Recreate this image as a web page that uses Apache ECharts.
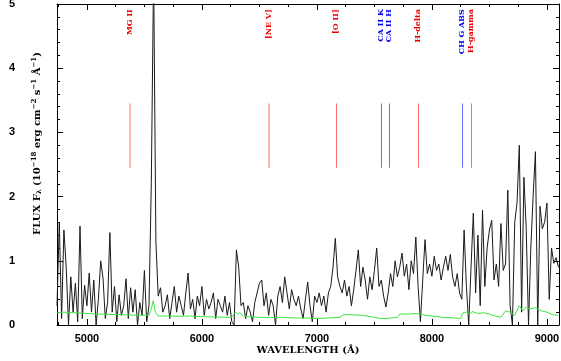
<!DOCTYPE html>
<html>
<head>
<meta charset="utf-8">
<script src="https://cdn.jsdelivr.net/npm/echarts@6/dist/echarts.min.js"></script>
<style>
html, body { margin: 0; padding: 0; background: #fff; }
#spectrum { width: 561px; height: 361px; }
</style>
</head>
<body>
<div id="spectrum"></div>
<script>
// wavelength sampling of the spectrum (Angstrom)
var waveStart = 4740
var waveStep = 20

// flux, 10^-18 erg cm^-2 s^-1 A^-1, one value per sample
var flux = [
    0.3, 1.6, 0.1, 1.48, 0.9, 0.0, 0.75, 0.2, 0.65, 0.05, 1.54, 0.1, 0.62, 0.3,
    0.81, 0.2, 0.7, 0.0, 0.4, 1.0, 0.73, 0.1, 0.35, 1.44, 0.2, 0.6, 0.05, 0.47, 0.15, 0.3,
    0.72, 0.1, 0.58, 0.2, 0.55, 0.0, 0.35, 0.15, 0.85, 0.05,
    0.3, 2.2, 5.5, 1.3,
    0.45, 0.58, 0.2, 0.3, 0.47, 0.1, 0.35, 0.6, 0.2, 0.45, 0.3, 0.15, 0.5, 0.81, 0.25, 0.4,
    0.1, 0.45, 0.3, 0.6, 0.15, 0.4, 0.25, 0.35, 0.5, 0.1, 0.4, 0.3, 0.2, 0.45, 0.15, 0.35, 0.05, 0.0,
    1.17, 0.9, 0.3,
    0.35, 0.1, 0.3, 0.2, 0.05, 0.35, 0.5, 0.65, 0.7, 0.3, 0.5, 0.15, 0.4, 0.3, 0.0, 0.45,
    0.6, 0.35, 0.75, 0.5, 0.25, 0.55, 0.4, 0.3, 0.45, 0.25, 0.1, 0.4, 0.67, 0.3, 0.05, 0.45,
    0.35, 0.5, 0.3, 0.45, 0.2, 0.5,
    0.6, 0.9, 1.35, 0.75, 0.6, 0.5, 0.7, 0.45, 0.6, 0.3, 0.55, 0.85, 1.17, 0.6, 0.9, 0.7,
    0.4, 0.75, 0.55, 0.85, 1.2, 0.6, 0.7, 0.45, 0.28,
    0.5, 0.8, 0.6, 1.0, 0.75, 0.9, 1.12, 0.76, 0.95, 0.55, 1.0, 0.8, 1.37, 0.6, 0.05, 0.7,
    1.33, 0.8, 0.95, 0.76, 1.07, 0.85, 0.95, 0.7, 0.9, 1.07, 0.85,
    1.1, 0.75, 0.6, 0.8, 0.5, 0.4, 1.48, 0.6, 0.0, 0.9, 1.74, 0.5, 1.4, 0.3, 1.79, 0.6, 1.2, 1.48,
    1.63, 0.7, 0.95, 0.6, 1.58, 0.85, 0.95, 2.1, 0.3, 0.0, 1.6, 1.9, 2.8, 0.2, 2.3, 1.5,
    0.0, 1.2, 2.0, 2.7, 0.0, 1.85, 1.5, 1.6, 1.9, 0.4, 1.2, 0.96, 1.05, 0.9
]

// error spectrum (green)
var errWave = [4740, 4800, 4900, 5000, 5100, 5200, 5300, 5400, 5500, 5540, 5560, 5577, 5595, 5620,
    5700, 5800, 5900, 6000, 6100, 6200, 6260, 6290, 6310, 6330, 6360, 6400, 6500, 6600, 6700,
    6800, 6900, 7000, 7100, 7200, 7230, 7300, 7400, 7500, 7550, 7600, 7650, 7700, 7720, 7800,
    7850, 7900, 7950, 8000, 8100, 8200, 8250, 8270, 8300, 8330, 8350, 8400, 8450, 8500, 8550,
    8600, 8640, 8680, 8720, 8760, 8790, 8820, 8850, 8900, 8950, 9000, 9050, 9100]
var errFlux = [0.19, 0.2, 0.19, 0.18, 0.17, 0.165, 0.16, 0.155, 0.15, 0.15, 0.25, 0.38, 0.2, 0.14,
    0.14, 0.135, 0.14, 0.13, 0.125, 0.12, 0.12, 0.2, 0.17, 0.19, 0.14, 0.13, 0.12, 0.115, 0.12,
    0.11, 0.11, 0.1, 0.11, 0.12, 0.16, 0.16, 0.15, 0.12, 0.1, 0.1, 0.11, 0.12, 0.17, 0.17,
    0.18, 0.17, 0.15, 0.14, 0.12, 0.11, 0.1, 0.19, 0.2, 0.17, 0.21, 0.18, 0.19, 0.17, 0.14,
    0.12, 0.22, 0.2, 0.15, 0.3, 0.22, 0.28, 0.25, 0.27, 0.22, 0.2, 0.16, 0.15]

// identified lines
var lineNames = ['MG II', '[NE V]', '[O II]', 'CA II K', 'CA II H', 'H-delta', 'CH G ABS', 'H-gamma']
var lineWaves = [5377, 6583, 7162, 7559, 7626, 7882, 8262, 8340]
var lineKinds = ['faint', 'faint', 'em', 'abs', 'abs', 'em', 'abs', 'em']
var markLow = 2.45
var markHigh = 3.45
var labelTop = 4.92

// axes
var xMin = 4740
var xMax = 9105
var xMajor = [5000, 6000, 7000, 8000, 9000]
var xMinor = []
for (var t = 4750; t <= 9100; t += 250) {
    if (t % 1000 !== 0) xMinor.push(t)
}

var kindStyle = {
    faint: { line: '#ffb4b4', width: 2, text: '#ee0000' },
    em: { line: '#ff6a6a', width: 1, text: '#ee0000' },
    abs: { line: '#6a6aff', width: 1, text: '#0000ee' }
}

var fluxData = []
for (var i = 0; i < flux.length; i++) {
    fluxData.push([waveStart + i * waveStep, flux[i]])
}
var errData = errWave.map(function (w, i) { return [w, errFlux[i]] })

var tickLabelFont = { fontFamily: 'Liberation Sans', fontWeight: 'bold', fontSize: 11, color: '#000' }

function xAxisCfg(position, values, len, showLine, showLabel) {
    return {
        type: 'value', position: position, min: xMin, max: xMax,
        axisLine: { show: showLine, onZero: false, lineStyle: { color: '#000', width: 1 } },
        axisTick: { inside: true, length: len, customValues: values, lineStyle: { color: '#000' } },
        axisLabel: showLabel ? Object.assign({
            customValues: values, margin: 8,
            formatter: function (v) { return String(v) }
        }, tickLabelFont) : { show: false },
        splitLine: { show: false }
    }
}

function yAxisCfg(position, showLabel) {
    return {
        type: 'value', position: position, min: 0, max: 5, interval: 1,
        axisLine: { show: true, onZero: false, lineStyle: { color: '#000', width: 1 } },
        axisTick: { inside: true, length: 6, lineStyle: { color: '#000' } },
        minorTick: { show: true, splitNumber: 5, length: 3, lineStyle: { color: '#000' } },
        axisLabel: showLabel ? Object.assign({ margin: 42 }, tickLabelFont) : { show: false },
        splitLine: { show: false }
    }
}

var bottomAxis = xAxisCfg('bottom', xMajor, 6, true, true)
bottomAxis.name = 'WAVELENGTH (Å)'
bottomAxis.nameLocation = 'middle'
bottomAxis.nameGap = 20
bottomAxis.nameMoveOverlap = false
bottomAxis.nameTextStyle = { fontFamily: 'DejaVu Serif', fontWeight: 'bold', fontSize: 10, color: '#000' }

var leftAxis = yAxisCfg('left', true)
leftAxis.name = 'FLUX F{sub|λ} (10{sup|−18} erg cm{sup|−2} s{sup|−1} Å{sup|−1})'
leftAxis.nameLocation = 'middle'
leftAxis.nameGap = 14
leftAxis.nameMoveOverlap = false
leftAxis.nameTextStyle = {
    fontFamily: 'DejaVu Serif', fontWeight: 'bold', fontSize: 10, color: '#000',
    padding: [0, 0, 0, 42],
    rich: {
        sup: { fontFamily: 'DejaVu Serif', fontWeight: 'bold', fontSize: 7, verticalAlign: 'top', padding: [0, 0, 5, 0] },
        sub: { fontFamily: 'DejaVu Serif', fontWeight: 'bold', fontSize: 7, verticalAlign: 'bottom', padding: [5, 0, 0, 0] }
    }
}

var chart = echarts.init(document.getElementById('spectrum'))
chart.setOption({
    animation: false,
    backgroundColor: '#fff',
    grid: { left: 57, right: 2, top: 4, bottom: 36, containLabel: false, outerBoundsMode: 'none' },
    xAxis: [
        bottomAxis,
        xAxisCfg('bottom', xMinor, 3, false, false),
        xAxisCfg('top', xMajor, 6, true, false),
        xAxisCfg('top', xMinor, 3, false, false)
    ],
    yAxis: [leftAxis, yAxisCfg('right', false)],
    series: [
        {
            name: 'flux', type: 'line', data: fluxData, showSymbol: false, symbol: 'none',
            clip: true, lineStyle: { color: '#1a1a1a', width: 1 }, z: 2
        },
        {
            name: 'error', type: 'line', data: errData, showSymbol: false, symbol: 'none',
            clip: true, lineStyle: { color: '#3ee63e', width: 1 }, z: 3
        },
        {
            name: 'lines', type: 'custom', z: 4,
            data: lineWaves.map(function (w, i) { return [w, i] }),
            renderItem: function (params, api) {
                var idx = api.value(1)
                var st = kindStyle[lineKinds[idx]]
                var p1 = api.coord([api.value(0), markLow])
                var p2 = api.coord([api.value(0), markHigh])
                var pt = api.coord([api.value(0), labelTop])
                // snap thin marker lines to the pixel grid so they stay crisp
                var lx = st.width % 2 === 1 ? Math.round(p1[0]) + 0.5 : Math.round(p1[0])
                return {
                    type: 'group',
                    children: [
                        {
                            type: 'line',
                            shape: { x1: lx, y1: p1[1], x2: lx, y2: p2[1] },
                            style: { stroke: st.line, lineWidth: st.width }
                        },
                        {
                            type: 'text', x: pt[0], y: pt[1], rotation: Math.PI / 2,
                            style: {
                                text: lineNames[idx], fill: st.text,
                                font: 'bold 8px "DejaVu Serif"',
                                align: 'right', verticalAlign: 'middle'
                            }
                        }
                    ]
                }
            }
        }
    ]
})
</script>
</body>
</html>
